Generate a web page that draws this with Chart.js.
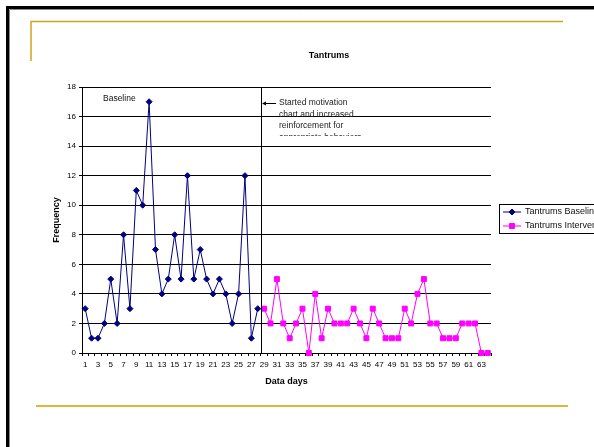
<!DOCTYPE html>
<html>
<head>
<meta charset="utf-8">
<title>Tantrums</title>
<script src="https://cdn.jsdelivr.net/npm/chart.js@4/dist/chart.umd.min.js"></script>
<style>
  html, body { margin: 0; padding: 0; background: #ffffff; }
  #wrap { position: relative; width: 594px; height: 447px; overflow: hidden; }
  canvas { display: block; }
</style>
</head>
<body>
<div id="wrap"><canvas id="c" width="594" height="447"></canvas></div>
<script>
// Observation days on the x axis
const days = [1,2,3,4,5,6,7,8,9,10,11,12,13,14,15,16,17,18,19,20,21,22,23,24,25,26,27,28,29,30,31,32,
              33,34,35,36,37,38,39,40,41,42,43,44,45,46,47,48,49,50,51,52,53,54,55,56,57,58,59,60,61,62,63,64];
// Tantrum counts during baseline (days 1-28)
const baselineValues = [3,1,1,2,5,2,8,3,11,10,17,7,4,5,8,5,12,5,7,5,4,5,4,2,4,12,1,3];
// Tantrum counts after the intervention started (days 29-64)
const interventionValues = [3,2,5,2,1,2,3,0,4,1,3,2,2,2,3,2,1,3,2,1,1,1,3,2,4,5,2,2,1,1,1,2,2,2,0,0];
const interventionStartDay = 29;
const seriesNames = ['Tantrums Baseline', 'Tantrums Intervention'];
const yTicks = [0,2,4,6,8,10,12,14,16,18];
const noteLines = ['Started motivation', 'chart and increased', 'reinforcement for', 'appropriate behaviors'];

const FONT = '"Liberation Sans", Arial, sans-serif';

const baselinePoints = baselineValues.map((v, i) => ({ x: String(days[i]), y: v }));
const interventionPoints = interventionValues.map((v, i) => ({ x: String(interventionStartDay + i), y: v }));

// Page frame, title, phase-change line, note and legend
const decorations = {
  id: 'decorations',
  beforeDraw(chart) {
    const ctx = chart.ctx;
    ctx.save();
    // outer frame
    ctx.strokeStyle = '#000';
    ctx.lineWidth = 3;
    ctx.strokeRect(7.5, 7.5, 700, 600);
    ctx.strokeStyle = '#8a8a8a';
    ctx.lineWidth = 1;
    ctx.beginPath();
    ctx.moveTo(9.5, 700); ctx.lineTo(9.5, 9.5); ctx.lineTo(700, 9.5);
    ctx.stroke();
    // gold rules
    ctx.strokeStyle = '#d6a21e';
    ctx.lineWidth = 1.5;
    ctx.beginPath();
    ctx.moveTo(31, 61); ctx.lineTo(31, 21.5); ctx.lineTo(563, 21.5);
    ctx.stroke();
    ctx.strokeStyle = '#e2b43a';
    ctx.lineWidth = 2;
    ctx.beginPath();
    ctx.moveTo(36, 406); ctx.lineTo(568, 406);
    ctx.stroke();
    ctx.restore();
  },
  afterDraw(chart) {
    const ctx = chart.ctx;
    const area = chart.chartArea;
    const xs = chart.scales.x;
    ctx.save();

    // title
    ctx.fillStyle = '#000';
    ctx.font = 'bold 9px ' + FONT;
    ctx.textAlign = 'center';
    ctx.textBaseline = 'middle';
    ctx.fillText('Tantrums', 329, 56);

    // phase-change line between the last baseline day and the first intervention day
    const lastBase = xs.getPixelForValue(baselinePoints.length - 1);
    const firstInt = xs.getPixelForValue(baselinePoints.length);
    const px = Math.round((lastBase + firstInt) / 2) + 0.5;
    ctx.strokeStyle = '#000';
    ctx.lineWidth = 1;
    ctx.beginPath();
    ctx.moveTo(px, area.top);
    ctx.lineTo(px, area.bottom);
    ctx.stroke();

    // phase labels
    ctx.font = '8.5px ' + FONT;
    ctx.textAlign = 'left';
    ctx.fillStyle = '#111';
    ctx.fillText('Baseline', 103, 99);

    // note with arrow
    ctx.strokeStyle = '#000';
    ctx.beginPath();
    ctx.moveTo(263, 103.5); ctx.lineTo(276, 103.5);
    ctx.stroke();
    ctx.fillStyle = '#000';
    ctx.beginPath();
    ctx.moveTo(262, 103.5); ctx.lineTo(266, 101.5); ctx.lineTo(266, 105.5);
    ctx.closePath();
    ctx.fill();
    ctx.save();
    ctx.beginPath();
    ctx.rect(276, 95, 120, 41);
    ctx.clip();
    ctx.fillStyle = '#222';
    noteLines.forEach((t, i) => ctx.fillText(t, 279, 103 + i * 11.5));
    ctx.restore();

    // legend
    ctx.strokeStyle = '#000';
    ctx.lineWidth = 1;
    ctx.strokeRect(499.5, 204.5, 120, 29);
    ctx.font = '9px ' + FONT;
    chart.data.datasets.forEach((ds, i) => {
      const y = 212 + i * 14;
      ctx.strokeStyle = ds.borderColor;
      ctx.lineWidth = 1;
      ctx.beginPath();
      ctx.moveTo(503, y); ctx.lineTo(521, y);
      ctx.stroke();
      ctx.fillStyle = ds.pointBackgroundColor;
      ctx.strokeStyle = ds.pointBorderColor;
      Chart.helpers.drawPoint(ctx, {
        pointStyle: ds.pointStyle, radius: ds.pointRadius, borderWidth: 1
      }, 512, y);
      ctx.fillStyle = '#111';
      ctx.fillText(ds.label, 525, y);
    });
    ctx.restore();
  }
};

new Chart(document.getElementById('c'), {
  type: 'line',
  data: {
    labels: days.map(String),
    datasets: [
      {
        label: seriesNames[0],
        data: baselinePoints,
        borderColor: '#000080',
        backgroundColor: '#000080',
        pointBackgroundColor: '#000080',
        pointBorderColor: '#000080',
        pointStyle: 'rectRot',
        pointRadius: 3,
        borderWidth: 1,
        tension: 0,
        clip: false
      },
      {
        label: seriesNames[1],
        data: interventionPoints,
        borderColor: '#ff00ff',
        backgroundColor: '#ff00ff',
        pointBackgroundColor: '#ff00ff',
        pointBorderColor: '#ff00ff',
        pointStyle: 'rect',
        pointRadius: 3.5,
        borderWidth: 1,
        tension: 0,
        clip: false
      }
    ]
  },
  options: {
    responsive: false,
    devicePixelRatio: 1,
    animation: false,
    events: [],
    layout: { padding: { left: 45, top: 87, right: 103, bottom: 57 } },
    plugins: { legend: { display: false }, title: { display: false }, tooltip: { enabled: false } },
    scales: {
      x: {
        type: 'category',
        offset: true,
        afterFit(s) { s.height = 37; },
        grid: { offset: true, drawOnChartArea: false, color: '#000', tickLength: 3, lineWidth: 1 },
        border: { color: '#000', width: 1 },
        ticks: {
          autoSkip: false, maxRotation: 0, minRotation: 0, padding: 4,
          color: '#000', font: { family: FONT, size: 8 },
          callback(v, i) { return i % 2 === 0 ? this.getLabelForValue(v) : ''; }
        },
        title: { display: true, text: 'Data days', color: '#000', font: { family: FONT, size: 9, weight: 'bold' }, padding: { top: 0, bottom: 3 } }
      },
      y: {
        min: 0, max: 18,
        afterFit(s) { s.width = 37; },
        afterBuildTicks(s) { s.ticks = yTicks.map(v => ({ value: v })); },
        grid: { color: '#000', tickLength: 3, lineWidth: 1 },
        border: { color: '#000', width: 1 },
        ticks: { color: '#000', font: { family: FONT, size: 8 }, padding: 3 },
        title: { display: true, text: 'Frequency', color: '#000', font: { family: FONT, size: 9, weight: 'bold' }, padding: { top: 6, bottom: 0 } }
      }
    }
  },
  plugins: [decorations]
});
</script>
</body>
</html>
